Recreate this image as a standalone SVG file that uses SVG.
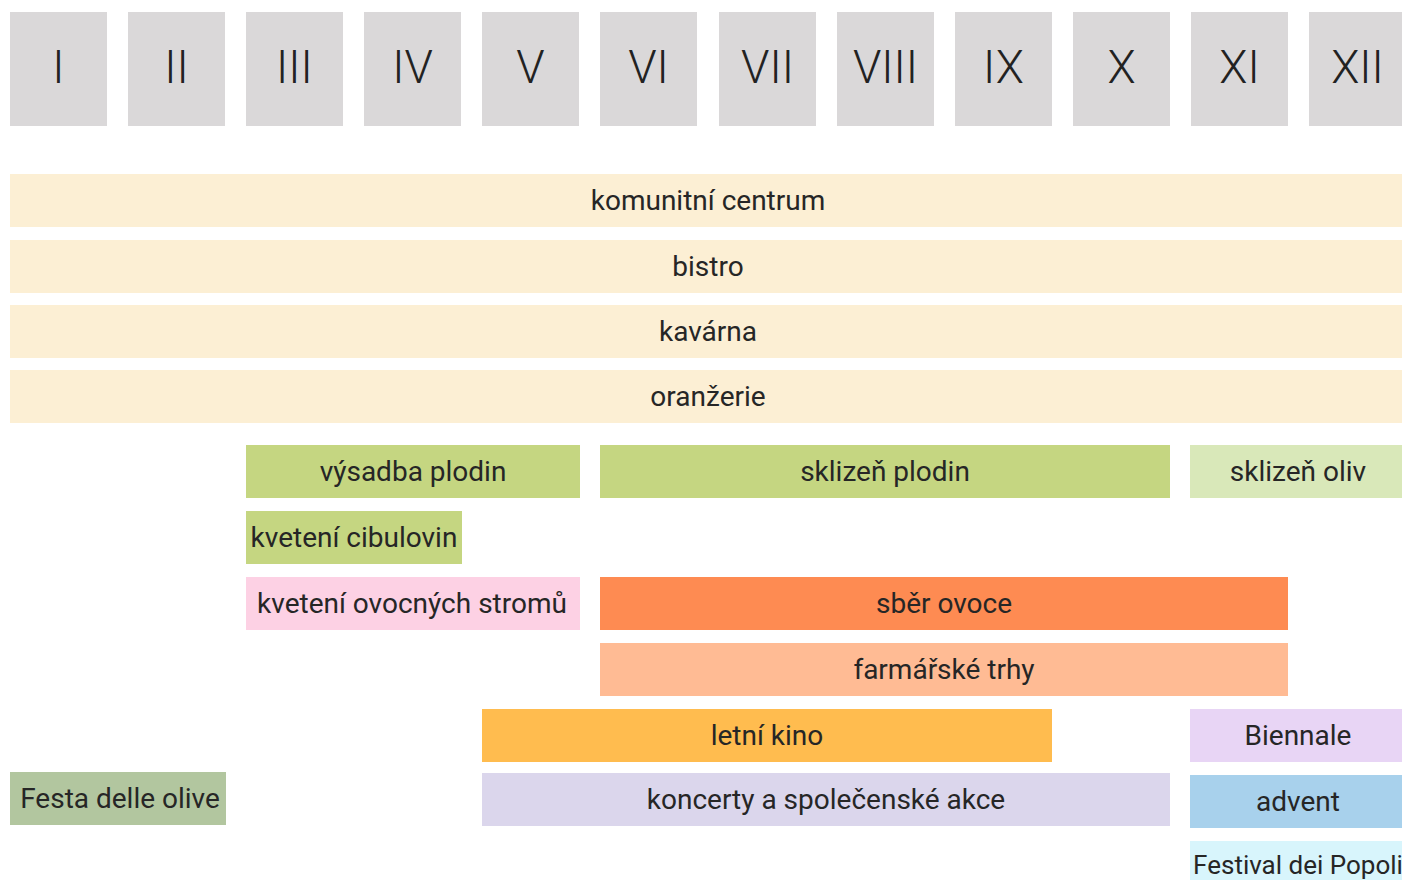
<svg xmlns="http://www.w3.org/2000/svg" width="1402" height="880" viewBox="0 0 1402 880">
<style>
.m{fill:#dad8d9}
.mt{font-family:Roboto,"Liberation Sans",sans-serif;font-weight:300;font-size:46px;fill:#222;text-anchor:middle}
.t{font-family:Roboto,"Liberation Sans",sans-serif;font-size:28px;fill:#262626;text-anchor:middle}
.b{fill:#fcefd4}
</style>
<rect width="1402" height="880" fill="#fff"/>
<g id="months">
<g id="m1"><rect class="m" x="10" y="12" width="97" height="114"/><text class="mt" x="58.5" y="83">I</text></g>
<g id="m2"><rect class="m" x="128" y="12" width="97" height="114"/><text class="mt" x="176.5" y="83">II</text></g>
<g id="m3"><rect class="m" x="246" y="12" width="97" height="114"/><text class="mt" x="294.5" y="83">III</text></g>
<g id="m4"><rect class="m" x="364" y="12" width="97" height="114"/><text class="mt" x="412.5" y="83">IV</text></g>
<g id="m5"><rect class="m" x="482" y="12" width="97" height="114"/><text class="mt" x="530.5" y="83">V</text></g>
<g id="m6"><rect class="m" x="600" y="12" width="97" height="114"/><text class="mt" x="648.5" y="83">VI</text></g>
<g id="m7"><rect class="m" x="719" y="12" width="97" height="114"/><text class="mt" x="767.5" y="83">VII</text></g>
<g id="m8"><rect class="m" x="837" y="12" width="97" height="114"/><text class="mt" x="885.5" y="83">VIII</text></g>
<g id="m9"><rect class="m" x="955" y="12" width="97" height="114"/><text class="mt" x="1003.5" y="83">IX</text></g>
<g id="m10"><rect class="m" x="1073" y="12" width="97" height="114"/><text class="mt" x="1121.5" y="83">X</text></g>
<g id="m11"><rect class="m" x="1191" y="12" width="97" height="114"/><text class="mt" x="1239.5" y="83">XI</text></g>
<g id="m12"><rect class="m" x="1309" y="12" width="97" height="114"/><text class="mt" x="1357.5" y="83">XII</text></g>
</g>
<g id="connectors"/>
<g id="komunitni"><rect class="b" x="10" y="174" width="1392" height="53"/><text class="t" x="708" y="210">komunitní centrum</text></g>
<g id="bistro"><rect class="b" x="10" y="240" width="1392" height="53"/><text class="t" x="708" y="276">bistro</text></g>
<g id="kavarna"><rect class="b" x="10" y="305" width="1392" height="53"/><text class="t" x="708" y="341">kavárna</text></g>
<g id="oranzerie"><rect class="b" x="10" y="370" width="1392" height="53"/><text class="t" x="708" y="406">oranžerie</text></g>
<g id="vysadba"><rect fill="#c5d681" x="246" y="445" width="334" height="53"/><text class="t" x="413" y="481">výsadba plodin</text></g>
<g id="sklizen-plodin"><rect fill="#c5d681" x="600" y="445" width="570" height="53"/><text class="t" x="885" y="481">sklizeň plodin</text></g>
<g id="sklizen-oliv"><rect fill="#d9e8b9" x="1190" y="445" width="212" height="53"/><text class="t" x="1298" y="481">sklizeň oliv</text></g>
<g id="cibuloviny"><rect fill="#c5d681" x="246" y="511" width="216" height="53"/><text class="t" x="354" y="547">kvetení cibulovin</text></g>
<g id="stromy"><rect fill="#fdd1e4" x="246" y="577" width="334" height="53"/><text class="t" x="412" y="613">kvetení ovocných stromů</text></g>
<g id="sber"><rect fill="#fe8b52" x="600" y="577" width="688" height="53"/><text class="t" x="944" y="613">sběr ovoce</text></g>
<g id="trhy"><rect fill="#ffbb94" x="600" y="643" width="688" height="53"/><text class="t" x="944" y="679">farmářské trhy</text></g>
<g id="kino"><rect fill="#ffbc4f" x="482" y="709" width="570" height="53"/><text class="t" x="767" y="745">letní kino</text></g>
<g id="biennale"><rect fill="#e8d5f5" x="1190" y="709" width="212" height="53"/><text class="t" x="1298" y="745">Biennale</text></g>
<g id="festa"><rect fill="#b2c69f" x="10" y="772" width="216" height="53"/><text class="t" x="120" y="808">Festa delle olive</text></g>
<g id="koncerty"><rect fill="#dbd6ec" x="482" y="773" width="688" height="53"/><text class="t" x="826" y="809">koncerty a společenské akce</text></g>
<g id="advent"><rect fill="#a8d1ec" x="1190" y="775" width="212" height="53"/><text class="t" x="1298" y="811">advent</text></g>
<g id="festival"><rect fill="#d8f5fc" x="1190" y="841" width="212" height="53"/><text class="t" x="1298" y="874" style="font-size:26px">Festival dei Popoli</text></g>
</svg>
